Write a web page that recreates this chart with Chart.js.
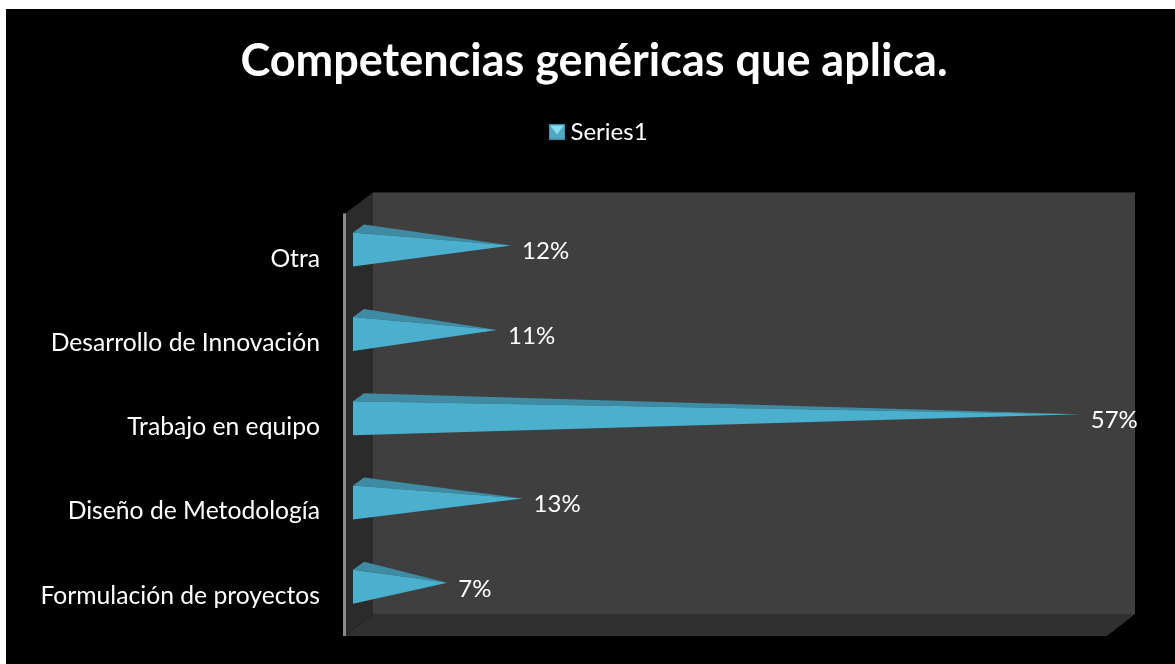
<!DOCTYPE html>
<html>
<head>
<meta charset="utf-8">
<title>Competencias genéricas que aplica.</title>
<script src="https://cdn.jsdelivr.net/npm/chart.js@4/dist/chart.umd.js"></script>
<style>
  html, body { margin: 0; padding: 0; background: #fff; overflow: hidden; }
  canvas { display: block; }
</style>
</head>
<body>
<canvas id="chart" width="1175" height="664"></canvas>
<script>
// Chart data
const categories = ['Otra', 'Desarrollo de Innovación', 'Trabajo en equipo', 'Diseño de Metodología', 'Formulación de proyectos'];
const seriesValues = [12.4, 11.3, 57, 13.3, 7.4];
const seriesName = 'Series1';
const chartTitle = 'Competencias genéricas que aplica.';

const FONT = 'Lato, "Open Sans", sans-serif';

// Legend swatch: small teal square with a lighter triangle
function makeSwatch() {
    const c = document.createElement('canvas');
    c.width = 16;
    c.height = 16;
    const g = c.getContext('2d');
    g.fillStyle = '#3f8fa8';
    g.fillRect(0, 0, 16, 16);
    g.fillStyle = '#4fa9c4';
    g.fillRect(1, 1, 14, 13);
    g.fillStyle = '#86deef';
    g.beginPath();
    g.moveTo(1, 1);
    g.lineTo(15, 1);
    g.lineTo(8, 10);
    g.closePath();
    g.fill();
    return c;
}

// Black page, walls and floor of the 3D box
const backdropPlugin = {
    id: 'backdrop',
    afterLayout(chart) {
        // title and legend sit right of the plot's centre
        chart.titleBlock.left += 70;
        chart.legend.left += 85;
    },
    beforeDraw(chart) {
        const ctx = chart.ctx;
        const a = chart.chartArea;
        const fl = a.left - 8, fb = a.bottom - 2, fr = a.right - 11;
        const dx = 28, dy = 22;
        ctx.save();
        ctx.fillStyle = '#000';
        ctx.fillRect(6, 9, chart.width - 6, chart.height - 9);
        // back wall
        ctx.fillStyle = '#3f3f3f';
        ctx.fillRect(fl + dx, a.top - 24, fr - fl, fb - dy - a.top + 24);
        // side wall
        ctx.fillStyle = '#2b2b2b';
        ctx.beginPath();
        ctx.moveTo(fl, a.top - 3);
        ctx.lineTo(fl + dx, a.top - 24);
        ctx.lineTo(fl + dx, fb - dy);
        ctx.lineTo(fl, fb);
        ctx.closePath();
        ctx.fill();
        // floor
        ctx.fillStyle = '#303030';
        ctx.beginPath();
        ctx.moveTo(fl, fb);
        ctx.lineTo(fl + dx, fb - dy);
        ctx.lineTo(fr + dx, fb - dy);
        ctx.lineTo(fr, fb);
        ctx.closePath();
        ctx.fill();
        // axis line
        ctx.fillStyle = '#8a8a8a';
        ctx.fillRect(fl - 2, a.top - 3, 3, fb - a.top + 3);
        ctx.restore();
    }
};

// Cone-like bars and their value labels, placed from the bar elements
const conePlugin = {
    id: 'cones',
    afterDatasetsDraw(chart) {
        const ctx = chart.ctx;
        const meta = chart.getDatasetMeta(0);
        ctx.save();
        meta.data.forEach(function(bar, i) {
            const cy = bar.y - 9;
            const half = bar.height / 2;
            const tipY = cy - 4;
            // top face
            ctx.fillStyle = '#3e8ba3';
            ctx.beginPath();
            ctx.moveTo(bar.base, cy - half);
            ctx.lineTo(bar.base + 11, cy - half - 8);
            ctx.lineTo(bar.x, tipY);
            ctx.closePath();
            ctx.fill();
            // front face
            ctx.fillStyle = '#4ab0cd';
            ctx.beginPath();
            ctx.moveTo(bar.base, cy - half);
            ctx.lineTo(bar.x, tipY);
            ctx.lineTo(bar.base, cy + half);
            ctx.closePath();
            ctx.fill();
            // value label
            ctx.fillStyle = '#fff';
            ctx.font = '24px ' + FONT;
            ctx.textAlign = 'left';
            ctx.textBaseline = 'middle';
            ctx.fillText(Math.round(seriesValues[i]) + '%', bar.x + 11, bar.y - 7);
        });
        ctx.restore();
    }
};

document.addEventListener('DOMContentLoaded', function() {
    const ctx = document.getElementById('chart').getContext('2d');
    new Chart(ctx, {
        type: 'bar',
        data: {
            labels: categories,
            datasets: [{
                label: seriesName,
                data: seriesValues,
                backgroundColor: 'transparent',
                borderWidth: 0,
                barThickness: 34,
                pointStyle: makeSwatch()
            }]
        },
        options: {
            indexAxis: 'y',
            responsive: false,
            animation: false,
            layout: { padding: { top: 0, bottom: 26, left: 0, right: 57 } },
            plugins: {
                title: {
                    display: true,
                    text: chartTitle,
                    color: '#fff',
                    font: { family: FONT, size: 45, weight: 'bold' },
                    padding: { top: 34, bottom: 22.4 }
                },
                legend: {
                    display: true,
                    position: 'top',
                    labels: {
                        color: '#fff',
                        font: { family: FONT, size: 24 },
                        usePointStyle: true,
                        pointStyleWidth: 3
                    }
                },
                tooltip: { enabled: false }
            },
            scales: {
                x: {
                    position: 'top',
                    min: 0,
                    max: 60,
                    grid: { display: false },
                    border: { display: false },
                    ticks: { display: false },
                    afterFit: function(scale) { scale.height = 62; }
                },
                y: {
                    grid: { display: false },
                    border: { display: false },
                    ticks: {
                        color: '#fff',
                        padding: 25,
                        font: { family: FONT, size: 24.7 }
                    },
                    afterFit: function(scale) {
                        scale.width = 353;
                        scale.paddingTop = 0;
                        scale.paddingBottom = 0;
                    }
                }
            }
        },
        plugins: [backdropPlugin, conePlugin]
    });
});
</script>
</body>
</html>
